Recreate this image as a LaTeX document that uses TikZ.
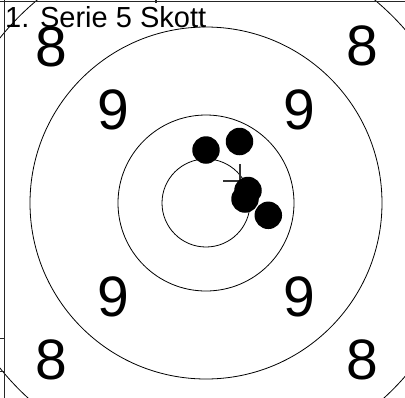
\documentclass[tikz,border=0pt]{standalone}
\usepackage{fontspec}
\setmainfont{Liberation Sans}
\begin{document}
\begin{tikzpicture}[x=1bp,y=-1bp,
  ring/.style={draw=black,line width=0.8bp},
  frameline/.style={draw=black!85,line width=1.2bp},
  ringnum/.style={inner sep=0pt,anchor=center,font=\fontsize{57bp}{57bp}\selectfont},
  shot/.style={circle,fill=black,minimum size=27.5bp,inner sep=0pt},
  mpi/.style={draw=black!80,line width=1.4bp}]
\useasboundingbox (0,0) rectangle (405,398);
\clip (0,0) rectangle (405,398);
\coordinate (c) at (206,203);
% rings
\draw[ring] (c) circle[radius=44];
\draw[ring] (c) circle[radius=88];
\draw[ring] (c) circle[radius=176];
\draw[ring] (c) circle[radius=264];
% frame
\draw[frameline] (0,1.5) -- (405,1.5);
\draw[frameline] (156,0) -- (156,3);
\draw[frameline] (4.5,0) -- (4.5,398);
\draw[frameline] (0,338.5) -- (4.5,338.5);
\draw[frameline] (0,371.5) -- (4.5,371.5);
% title
\node[inner sep=0pt,anchor=base west,font=\fontsize{29bp}{29bp}\selectfont] (title) at (5,27) {1. Serie 5 Skott};
% ring numbers
\node[ringnum] (e1) at (51,46.5) {8};
\node[ringnum] (e2) at (362,46) {8};
\node[ringnum] (e3) at (51,359.5) {8};
\node[ringnum] (e4) at (362,359.5) {8};
\node[ringnum] (n1) at (113.5,110) {9};
\node[ringnum] (n2) at (299,110) {9};
\node[ringnum] (n3) at (113.5,297) {9};
\node[ringnum] (n4) at (299,297) {9};
% mean point of impact
\coordinate (m) at (240,181);
\draw[mpi] ([xshift=-17bp]m) -- ([xshift=17bp]m);
\draw[mpi] ([yshift=17bp]m) -- ([yshift=-17bp]m);
% shots
\node[shot] (s1) at (206,150) {};
\node[shot] (s2) at (239.5,141.5) {};
\node[shot] (s3) at (248,190.5) {};
\node[shot] (s4) at (245,199) {};
\node[shot] (s5) at (268.3,215.3) {};
\end{tikzpicture}
\end{document}
